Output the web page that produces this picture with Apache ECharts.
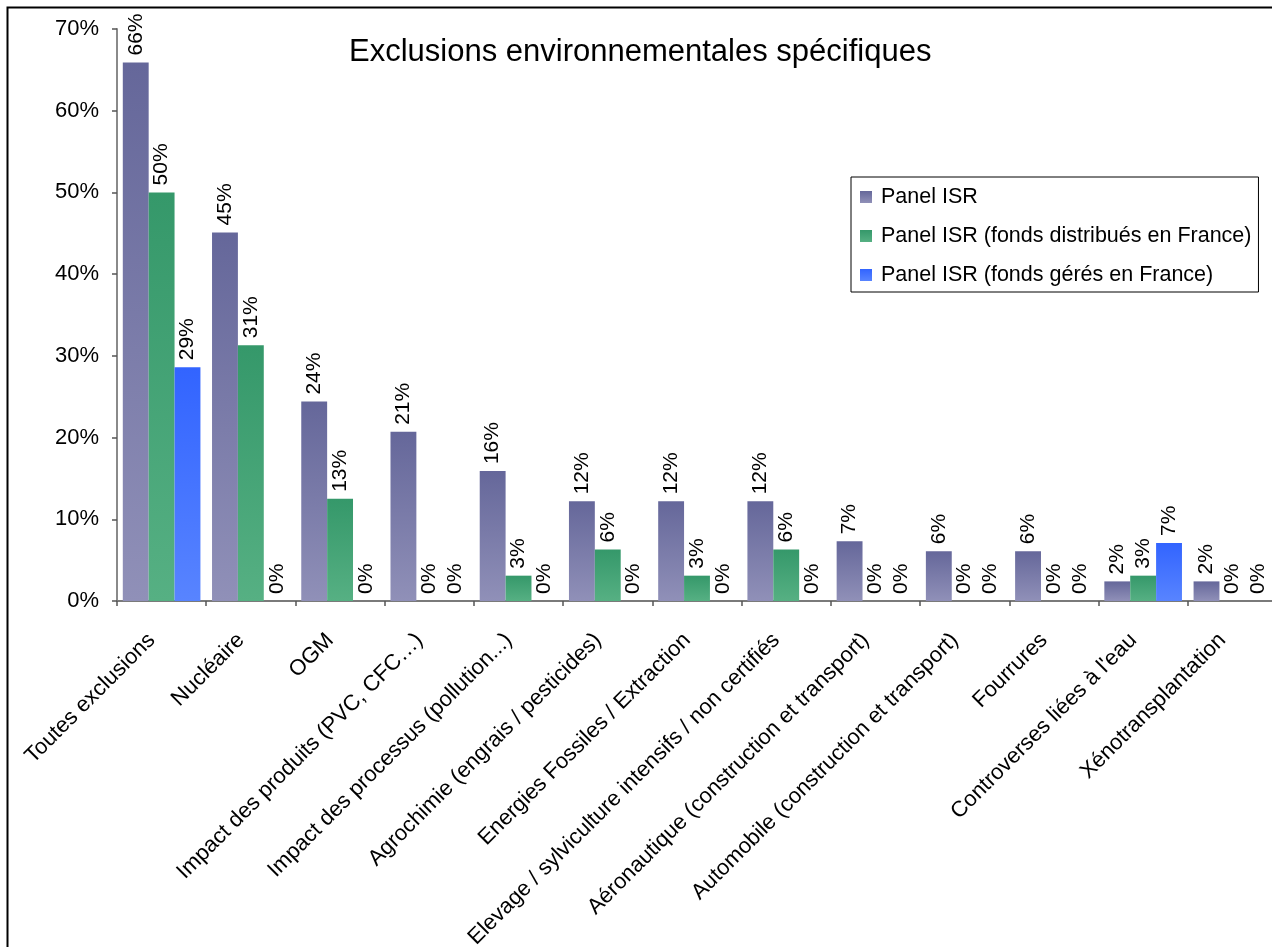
<!DOCTYPE html>
<html>
<head>
<meta charset="utf-8">
<title>Exclusions environnementales spécifiques</title>
<script src="https://cdn.jsdelivr.net/npm/echarts@6/dist/echarts.min.js"></script>
<style>
  html, body { margin: 0; padding: 0; background: #ffffff; }
  #chart { width: 1272px; height: 947px; }
</style>
</head>
<body>
<div id="chart"></div>
<script>
// Categories of environmental exclusions
const categories = [
  "Toutes exclusions",
  "Nucléaire",
  "OGM",
  "Impact des produits (PVC, CFC…)",
  "Impact des processus (pollution...)",
  "Agrochimie (engrais / pesticides)",
  "Energies Fossiles / Extraction",
  "Elevage / sylviculture intensifs / non certifiés",
  "Aéronautique (construction et transport)",
  "Automobile (construction et transport)",
  "Fourrures",
  "Controverses liées à l'eau",
  "Xénotransplantation"
];

// Share of funds applying each exclusion (fraction of panel)
const panelIsr      = [0.659, 0.451, 0.244, 0.207, 0.159, 0.122, 0.122, 0.122, 0.073, 0.061, 0.061, 0.024, 0.024];
const panelDistrib  = [0.500, 0.313, 0.125, 0.000, 0.031, 0.063, 0.031, 0.063, 0.000, 0.000, 0.000, 0.031, 0.000];
const panelGeres    = [0.286, 0.000, 0.000, 0.000, 0.000, 0.000, 0.000, 0.000, 0.000, 0.000, 0.000, 0.071, 0.000];

const seriesNames = [
  "Panel ISR",
  "Panel ISR (fonds distribués en France)",
  "Panel ISR (fonds gérés en France)"
];

const yTicks = { min: 0, max: 0.7, interval: 0.1 };

const FONT = "'Liberation Sans', Arial, sans-serif";

function grad(top, bottom) {
  return new echarts.graphic.LinearGradient(0, 0, 0, 1, [
    { offset: 0, color: top },
    { offset: 1, color: bottom }
  ]);
}

const fills = [
  grad('#65679a', '#9090b8'),
  grad('#35986a', '#56b083'),
  grad('#3264ff', '#5884ff')
];

const pct = v => Math.round(v * 100) + '%';

function barSeries(name, data, fill) {
  return {
    name: name,
    type: 'bar',
    data: data,
    barGap: '0%',
    barCategoryGap: '13%',
    itemStyle: { color: fill },
    label: {
      show: true,
      position: 'top',
      rotate: 90,
      align: 'left',
      verticalAlign: 'middle',
      distance: 7,
      color: '#000',
      fontFamily: FONT,
      fontSize: 21,
      formatter: p => pct(p.value)
    }
  };
}

const chart = echarts.init(document.getElementById('chart'), null, { renderer: 'canvas' });

chart.setOption({
  animation: false,
  backgroundColor: '#ffffff',
  title: {
    text: 'Exclusions environnementales spécifiques',
    left: 349,
    top: 37,
    padding: 0,
    textStyle: { fontFamily: FONT, fontSize: 31, fontWeight: 'normal', color: '#000' }
  },
  legend: {
    orient: 'vertical',
    left: 851,
    top: 177,
    padding: [8, 7, 5, 9],
    itemGap: 15,
    itemWidth: 12,
    itemHeight: 12,
    icon: 'rect',
    borderColor: '#000',
    borderWidth: 1,
    backgroundColor: '#fff',
    data: seriesNames,
    textStyle: {
      fontFamily: FONT,
      fontSize: 21.5,
      lineHeight: 24,
      color: '#000',
      padding: [0, 0, 0, 4]
    }
  },
  grid: {
    left: 117,
    top: 29,
    right: -5,
    bottom: 346,
    containLabel: false,
    outerBoundsMode: 'none'
  },
  xAxis: {
    type: 'category',
    data: categories,
    axisLine: { lineStyle: { color: '#7a7a7a', width: 2 } },
    axisTick: { show: true, length: 5, lineStyle: { color: '#555', width: 1.5 } },
    axisLabel: {
      interval: 0,
      rotate: 45,
      margin: 26,
      padding: [0, 14, 14, 0],
      color: '#000',
      fontFamily: FONT,
      fontSize: 22
    }
  },
  yAxis: {
    type: 'value',
    min: yTicks.min,
    max: yTicks.max,
    interval: yTicks.interval,
    splitLine: { show: false },
    axisLine: { show: true, lineStyle: { color: '#8a8a8a', width: 2 } },
    axisTick: { show: true, length: 5, lineStyle: { color: '#555', width: 1.5 } },
    axisLabel: {
      margin: 18,
      color: '#000',
      fontFamily: FONT,
      fontSize: 22,
      formatter: v => pct(v)
    }
  },
  graphic: [{
    type: 'rect',
    left: 5,
    top: 5,
    shape: { width: 1400, height: 1100 },
    style: { fill: 'none', stroke: '#000', lineWidth: 2 },
    silent: true,
    z: -1
  }],
  series: [
    barSeries(seriesNames[0], panelIsr, fills[0]),
    barSeries(seriesNames[1], panelDistrib, fills[1]),
    barSeries(seriesNames[2], panelGeres, fills[2])
  ]
});
</script>
</body>
</html>
